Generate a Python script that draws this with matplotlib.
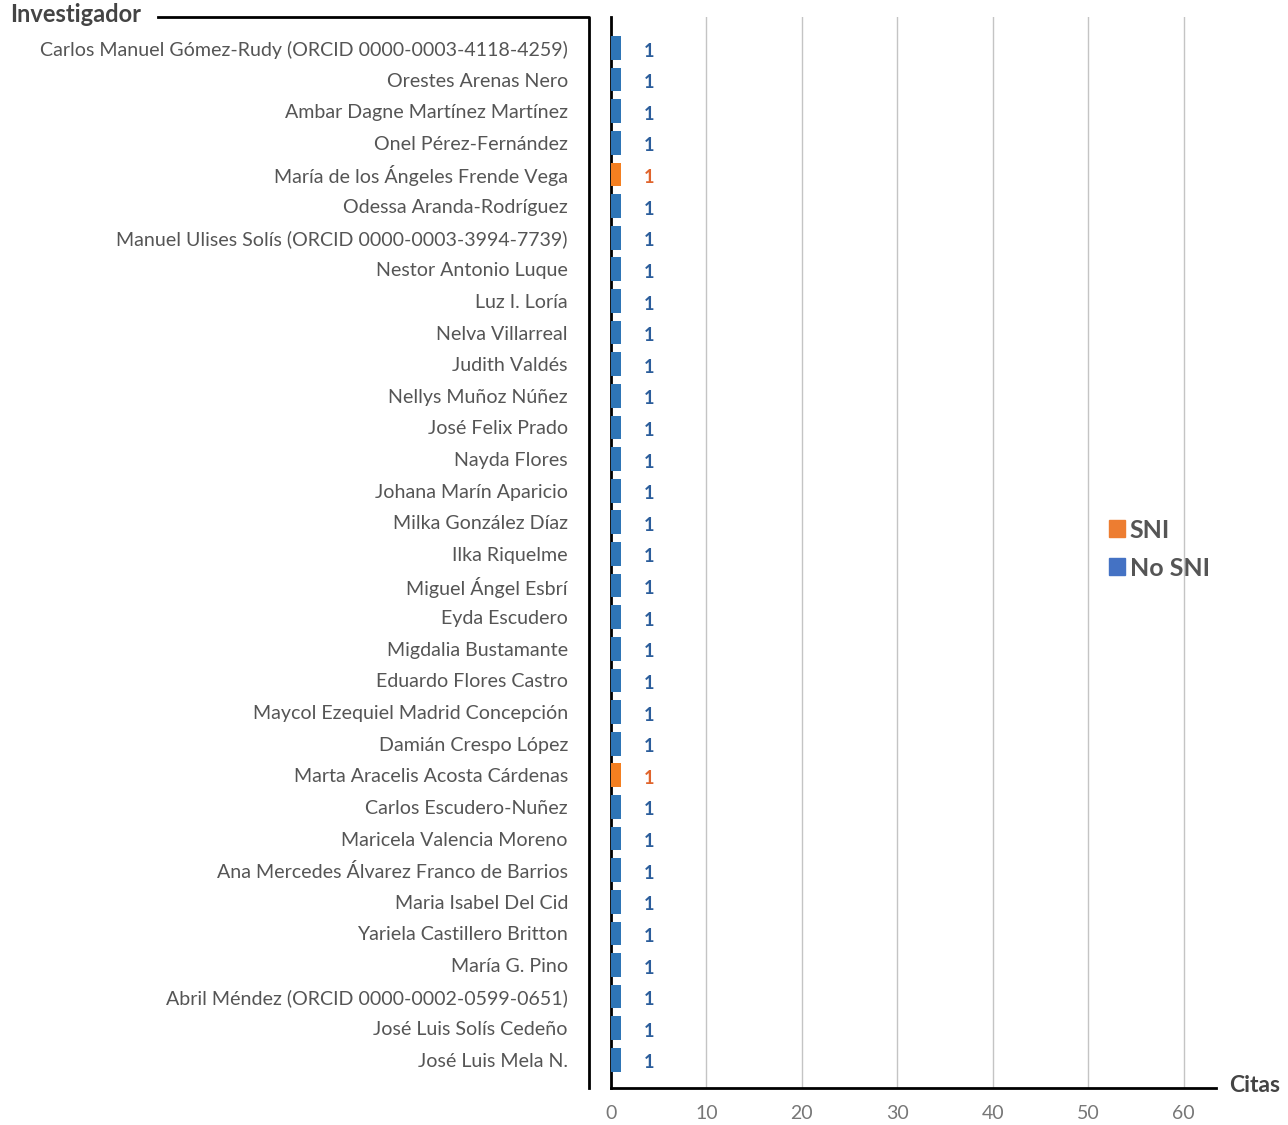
import matplotlib.pyplot as plt
from matplotlib.patches import Patch
from matplotlib.lines import Line2D

plt.rcParams['font.family'] = ['Lato', 'DejaVu Sans']

investigadores = [
    "Carlos Manuel Gómez-Rudy (ORCID 0000-0003-4118-4259)",
    "Orestes Arenas Nero",
    "Ambar Dagne Martínez Martínez",
    "Onel Pérez-Fernández",
    "María de los Ángeles Frende Vega",
    "Odessa Aranda-Rodríguez",
    "Manuel Ulises Solís (ORCID 0000-0003-3994-7739)",
    "Nestor Antonio Luque",
    "Luz I. Loría",
    "Nelva Villarreal",
    "Judith Valdés",
    "Nellys Muñoz Núñez",
    "José Felix Prado",
    "Nayda Flores",
    "Johana Marín Aparicio",
    "Milka González Díaz",
    "Ilka Riquelme",
    "Miguel Ángel Esbrí",
    "Eyda Escudero",
    "Migdalia Bustamante",
    "Eduardo Flores Castro",
    "Maycol Ezequiel Madrid Concepción",
    "Damián Crespo López",
    "Marta Aracelis Acosta Cárdenas",
    "Carlos Escudero-Nuñez",
    "Maricela Valencia Moreno",
    "Ana Mercedes Álvarez Franco de Barrios",
    "Maria Isabel Del Cid",
    "Yariela Castillero Britton",
    "María G. Pino",
    "Abril Méndez (ORCID 0000-0002-0599-0651)",
    "José Luis Solís Cedeño",
    "José Luis Mela N.",
]
citas = [1] * 33
sni = [False, False, False, False, True, False, False, False, False, False,
       False, False, False, False, False, False, False, False, False, False,
       False, False, False, True, False, False, False, False, False, False,
       False, False, False]
xticks = [0, 10, 20, 30, 40, 50, 60]

bar_blue = "#2E75B6"
bar_orange = "#F47F20"
lab_blue = "#2B5D9B"
lab_orange = "#E0642C"

fig = plt.figure(figsize=(12.88, 11.25), dpi=100)
ax = fig.add_axes([611 / 1288, 1 - 1088 / 1125, (1216 - 611) / 1288, (1088 - 17) / 1125])

ypos = list(range(len(investigadores)))
colors = [bar_orange if s else bar_blue for s in sni]
bars = ax.barh(ypos, citas, height=0.75, color=colors, zorder=3)
labels = ax.bar_label(bars, padding=17, fontsize=13, fontweight='bold')
for t, s in zip(labels, sni):
    t.set_color(lab_orange if s else lab_blue)
    t.xyann = (17, -2.2)  # nudge down a little

ax.set_xlim(0, 63.4)
ax.set_ylim(32.89, -0.98)
ax.set_xticks(xticks)
ax.set_yticks(ypos)
ax.set_yticklabels(investigadores)
ax.tick_params(axis='y', length=0, pad=31, labelsize=14.1, labelcolor='#555555')
ax.tick_params(axis='x', length=0, pad=12, labelsize=14, labelcolor='#777777')
ax.grid(axis='x', color='#c4c4c4', linewidth=1, zorder=0)
for side in ['top', 'right']:
    ax.spines[side].set_visible(False)
ax.spines['left'].set_linewidth(2)
ax.spines['bottom'].set_linewidth(2)

# bracket on the left and axis titles
fig.add_artist(Line2D([158 / 1288, 589 / 1288, 589 / 1288],
                      [1 - 17 / 1125, 1 - 17 / 1125, 1 - 1088 / 1125],
                      color='black', linewidth=2))
fig.text(10 / 1288, 1 - 14 / 1125, "Investigador", fontsize=17, fontweight='bold',
         color='#444444', ha='left', va='center')
fig.text(1229 / 1288, 1 - 1086 / 1125, "Citas", fontsize=16.5, fontweight='bold',
         color='#444444', ha='left', va='center')

handles = [Patch(color="#ED7D31", label="SNI"), Patch(color="#4472C4", label="No SNI")]
leg = fig.legend(handles=handles, loc='center left', bbox_to_anchor=(1086 / 1288, 1 - 549 / 1125),
                 frameon=False, handlelength=0.65, handleheight=0.65, handletextpad=0.2,
                 labelspacing=0.6, prop={'size': 18, 'weight': 'bold'})
for t in leg.get_texts():
    t.set_color('#555555')

fig.savefig("out.png", dpi=100)
